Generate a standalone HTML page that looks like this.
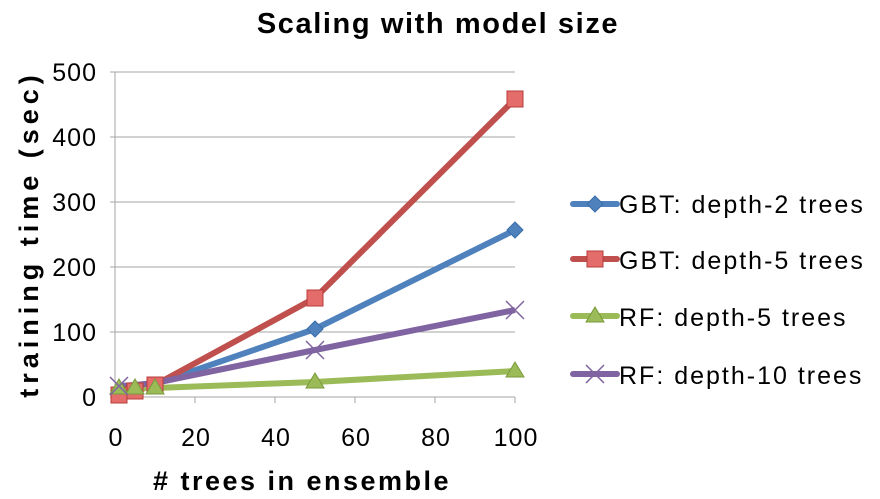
<!DOCTYPE html>
<html><head><style>body{margin:0;background:#fff}svg{display:block}text{font-family:"Liberation Sans",sans-serif;fill:#000}</style></head><body>
<svg width="880" height="499" viewBox="0 0 880 499">
<text x="438" y="33" font-size="29" font-weight="bold" letter-spacing="1.6" text-anchor="middle">Scaling with model size</text>
<g stroke="#a6a6a6" stroke-width="1">
<line x1="115" y1="72" x2="515" y2="72"/><line x1="115" y1="137" x2="515" y2="137"/><line x1="115" y1="202" x2="515" y2="202"/><line x1="115" y1="267" x2="515" y2="267"/><line x1="115" y1="332" x2="515" y2="332"/>
<line x1="115" y1="72" x2="115" y2="397"/><line x1="110" y1="397" x2="515" y2="397"/>
<line x1="110" y1="72" x2="115" y2="72"/><line x1="110" y1="137" x2="115" y2="137"/><line x1="110" y1="202" x2="115" y2="202"/><line x1="110" y1="267" x2="115" y2="267"/><line x1="110" y1="332" x2="115" y2="332"/>
<line x1="195" y1="397" x2="195" y2="403"/><line x1="275" y1="397" x2="275" y2="403"/><line x1="355" y1="397" x2="355" y2="403"/><line x1="435" y1="397" x2="435" y2="403"/><line x1="515" y1="397" x2="515" y2="403"/>
</g>
<g font-size="25" letter-spacing="1" text-anchor="end">
<text x="97" y="81">500</text><text x="97" y="146">400</text><text x="97" y="211">300</text><text x="97" y="276">200</text><text x="97" y="341">100</text><text x="97" y="406">0</text></g>
<g font-size="25" letter-spacing="1" text-anchor="middle">
<text x="116" y="446">0</text><text x="196" y="446">20</text><text x="276" y="446">40</text><text x="356" y="446">60</text><text x="436" y="446">80</text><text x="516" y="446">100</text></g>
<text x="302" y="490" font-size="27" font-weight="bold" letter-spacing="2.5" text-anchor="middle"># trees in ensemble</text>
<text transform="translate(38,234) rotate(-90)" font-size="27" font-weight="bold" letter-spacing="5" text-anchor="middle">training time (sec)</text>
<g fill="none" stroke-width="6" stroke-linejoin="round">
<polyline stroke="#4f81bd" points="119,393 135,390 155,384 315,329 515,230"/>
<polyline stroke="#c0504d" points="119,395 135,391 155,385 315,298 515,99"/>
<polyline stroke="#9bbb59" points="119,388 135,388 155,388 315,382 515,371"/>
<polyline stroke="#8064a2" points="119,386 135,385 155,383 315,350 515,310"/>
</g>
<g fill="#4f81bd" stroke="#3a6ea8"><path d="M315 321 l8 8 -8 8 -8 -8z"/><path d="M515 222 l8 8 -8 8 -8 -8z"/></g>
<g fill="#e46c6a" stroke="#b83c3a"><rect x="111" y="387" width="16" height="16"/><rect x="127" y="383" width="16" height="16"/><rect x="147" y="377" width="16" height="16"/><rect x="307" y="290" width="16" height="16"/><rect x="507" y="91" width="16" height="16"/></g>
<g fill="#9bbb59" stroke="#7a9a3a"><path d="M119 379 l9 15 h-18z"/><path d="M135 379 l9 15 h-18z"/><path d="M155 379 l9 15 h-18z"/><path d="M315 373 l9 15 h-18z"/><path d="M515 362 l9 15 h-18z"/></g>
<g stroke="#8064a2" stroke-width="1.5"><path d="M110 377 l18 18 M128 377 l-18 18"/><path d="M306 341 l18 18 M324 341 l-18 18"/><path d="M506 301 l18 18 M524 301 l-18 18"/></g>
<g stroke-width="6" stroke-linecap="round">
<line x1="573" y1="204" x2="617" y2="204" stroke="#4f81bd"/><line x1="573" y1="259" x2="617" y2="259" stroke="#c0504d"/><line x1="573" y1="316" x2="617" y2="316" stroke="#9bbb59"/><line x1="573" y1="374" x2="617" y2="374" stroke="#8064a2"/></g>
<path d="M595 196 l8 8 -8 8 -8 -8z" fill="#4f81bd" stroke="#3a6ea8"/>
<rect x="587" y="251" width="16" height="16" fill="#e46c6a" stroke="#b83c3a"/>
<path d="M595 307 l9 15 h-18z" fill="#9bbb59" stroke="#7a9a3a"/>
<path d="M586 365 l18 18 M604 365 l-18 18" stroke="#8064a2" stroke-width="1.5"/>
<g font-size="25" letter-spacing="2"><text x="619" y="213">GBT: depth-2 trees</text><text x="619" y="269">GBT: depth-5 trees</text><text x="619" y="326">RF: depth-5 trees</text><text x="619" y="384">RF: depth-10 trees</text></g>
</svg></body></html>
